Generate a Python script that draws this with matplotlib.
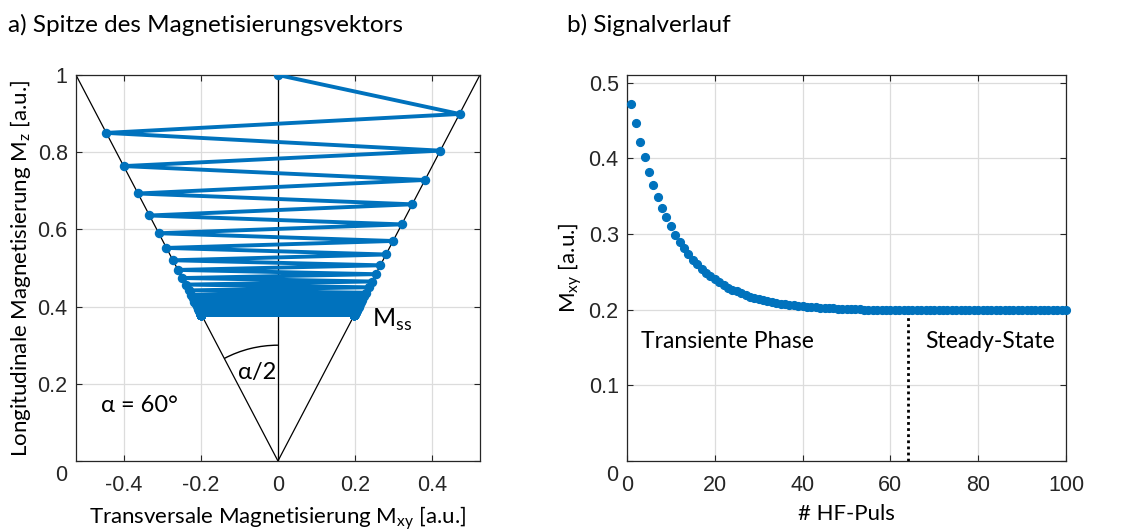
import matplotlib
matplotlib.use("Agg")
import matplotlib.pyplot as plt
from matplotlib.patches import Arc
from matplotlib.transforms import ScaledTranslation

# transverse magnetisation after each HF pulse (pulse 1..100)
pulses = list(range(1, 101))
mxy = [0.472, 0.446, 0.422, 0.401, 0.382, 0.364, 0.349, 0.334, 0.322, 0.310,
       0.299, 0.290, 0.281, 0.273, 0.266, 0.260, 0.254, 0.249, 0.244, 0.240,
       0.236, 0.232, 0.229, 0.226, 0.224, 0.222, 0.219, 0.217, 0.216, 0.214,
       0.213, 0.211, 0.210, 0.209, 0.208, 0.207, 0.206, 0.206, 0.205, 0.205,
       0.204, 0.204, 0.203, 0.202, 0.202, 0.202, 0.202, 0.201, 0.201, 0.201,
       0.201, 0.201, 0.201, 0.200, 0.200, 0.200, 0.200, 0.200, 0.200, 0.200,
       0.200, 0.200, 0.199, 0.199, 0.199, 0.199, 0.199, 0.199, 0.199, 0.199,
       0.199, 0.199, 0.199, 0.199, 0.199, 0.199, 0.199, 0.199, 0.199, 0.199,
       0.199, 0.199, 0.199, 0.199, 0.199, 0.199, 0.199, 0.199, 0.199, 0.199,
       0.199, 0.199, 0.199, 0.199, 0.199, 0.199, 0.199, 0.199, 0.199, 0.199]
# longitudinal magnetisation after each pulse
mz = [0.899, 0.850, 0.804, 0.764, 0.728, 0.693, 0.665, 0.636, 0.613, 0.590,
      0.570, 0.552, 0.535, 0.520, 0.507, 0.495, 0.484, 0.474, 0.465, 0.457,
      0.450, 0.442, 0.436, 0.430, 0.427, 0.423, 0.417, 0.413, 0.411, 0.408,
      0.406, 0.402, 0.400, 0.398, 0.396, 0.394, 0.392, 0.392, 0.390, 0.390,
      0.389, 0.389, 0.387, 0.385, 0.385, 0.385, 0.385, 0.383, 0.383, 0.383,
      0.383, 0.383, 0.383, 0.381, 0.381, 0.381, 0.381, 0.381, 0.381, 0.381,
      0.381, 0.381, 0.379, 0.379, 0.379, 0.379, 0.379, 0.379, 0.379, 0.379,
      0.379, 0.379, 0.379, 0.379, 0.379, 0.379, 0.379, 0.379, 0.379, 0.379,
      0.379, 0.379, 0.379, 0.379, 0.379, 0.379, 0.379, 0.379, 0.379, 0.379,
      0.379, 0.379, 0.379, 0.379, 0.379, 0.379, 0.379, 0.379, 0.379, 0.379]
cone_half_width = 0.525   # x of the cone edge at Mz = 1
steady_start = 64

blue = "#0072BD"
dark = "#262626"
txt_font = ["Lato", "DejaVu Sans"]
plt.rcParams["font.family"] = ["Liberation Sans", "DejaVu Sans"]

fig = plt.figure(figsize=(11.41, 5.30), dpi=100)
ax1 = fig.add_axes([0.0666, 0.1302, 0.354, 0.7283])
ax2 = fig.add_axes([0.5495, 0.1302, 0.3848, 0.7283])


def style(ax):
    ax.grid(True, color="#dcdcdc", linewidth=0.9)
    ax.set_axisbelow(True)
    ax.tick_params(direction="in", length=4, width=0.8, colors=dark,
                   labelsize=15.5, top=True, right=True)
    ax.tick_params(axis="x", pad=10)
    ax.tick_params(axis="y", pad=6)
    for s in ax.spines.values():
        s.set_color(dark)
        s.set_linewidth(0.9)


def drop_zero(ax):
    # the "0" y tick label sits a bit below the axis corner
    lab = ax.get_yticklabels()[0]
    lab.set_transform(lab.get_transform()
                      + ScaledTranslation(0, -12 / 100, fig.dpi_scale_trans))


# a) tip of the magnetisation vector
style(ax1)
ax1.set_xlim(-cone_half_width, cone_half_width)
ax1.set_ylim(0, 1)
ax1.set_xticks([-0.4, -0.2, 0, 0.2, 0.4])
ax1.set_xticklabels(["-0.4", "-0.2", "0", "0.2", "0.4"])
ax1.set_yticks([0, 0.2, 0.4, 0.6, 0.8, 1])
ax1.set_yticklabels(["0", "0.2", "0.4", "0.6", "0.8", "1"])
ax1.plot([-cone_half_width, 0, cone_half_width], [1, 0, 1], color="black", lw=0.9)
ax1.plot([0, 0], [0, 1], color="black", lw=0.9)

xs = [0.0]
zs = [1.0]
for i, (m, z) in enumerate(zip(mxy, mz)):
    xs.append(m if i % 2 == 0 else -m)
    zs.append(z)
ax1.plot(xs, zs, color=blue, lw=2.8, marker="o", markersize=5.8, zorder=3)

ax1.add_patch(Arc((0, 0), 0.60, 0.60, theta1=90, theta2=117.7,
                  color="black", lw=1.0))
ax1.text(-0.055, 0.23, "α/2", fontsize=17, family=txt_font, ha="center", va="center")
ax1.text(0.244, 0.365, "M$_{\\mathregular{ss}}$", fontsize=18, family=txt_font,
         ha="left", va="center")
ax1.text(-0.46, 0.145, "α = 60°", fontsize=17, family=txt_font, ha="left", va="center")
ax1.set_xlabel("Transversale Magnetisierung M$_{\\mathregular{xy}}$ [a.u.]",
               fontsize=16, family=txt_font, labelpad=6)
ax1.set_ylabel("Longitudinale Magnetisierung M$_{\\mathregular{z}}$ [a.u.]",
               fontsize=16, family=txt_font, labelpad=3)
drop_zero(ax1)

# b) signal curve
style(ax2)
ax2.set_xlim(0, 100)
ax2.set_ylim(0, 0.51)
ax2.set_xticks([0, 20, 40, 60, 80, 100])
ax2.set_yticks([0, 0.1, 0.2, 0.3, 0.4, 0.5])
ax2.set_yticklabels(["0", "0.1", "0.2", "0.3", "0.4", "0.5"])
ax2.plot(pulses, mxy, linestyle="none", marker="o", markersize=5.6, color=blue,
         clip_on=False, zorder=3)
ax2.plot([steady_start, steady_start], [0, mxy[steady_start - 1]],
         color="black", lw=2, linestyle=(0, (1, 1.2)))
ax2.text(3.2, 0.158, "Transiente Phase", fontsize=16.5, family=txt_font,
         ha="left", va="center")
ax2.text(97.5, 0.158, "Steady-State", fontsize=16.5, family=txt_font,
         ha="right", va="center")
ax2.set_xlabel("# HF-Puls", fontsize=16, family=txt_font, labelpad=6)
ax2.set_ylabel("M$_{\\mathregular{xy}}$ [a.u.]", fontsize=16, family=txt_font, labelpad=3)
drop_zero(ax2)

fig.text(0.007, 0.953, "a) Spitze des Magnetisierungsvektors", fontsize=17.5,
         family=txt_font, va="center")
fig.text(0.497, 0.953, "b) Signalverlauf", fontsize=17.5, family=txt_font, va="center")

fig.savefig("out.png", dpi=100, facecolor="white")
